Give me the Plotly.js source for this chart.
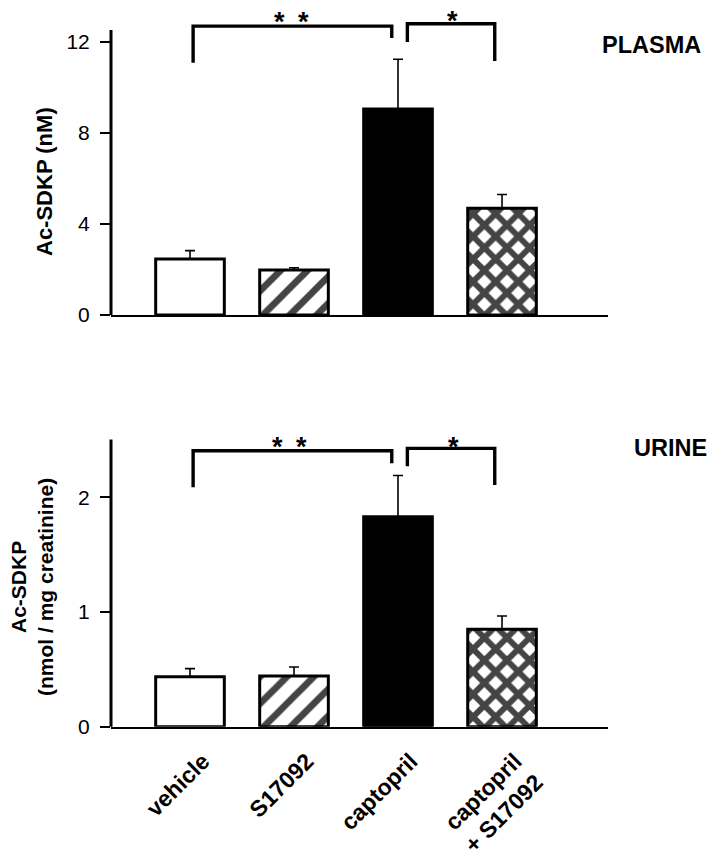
<!DOCTYPE html>
<html>
<head>
<meta charset="utf-8">
<script src="https://cdn.plot.ly/plotly-3.0.1.min.js"></script>
<style>html,body{margin:0;padding:0;background:#fff;}#chart{width:718px;height:859px;}</style>
</head>
<body>
<div id="chart"></div>
<script>
// ---- data ----
var categories = ['vehicle', 'S17092', 'captopril', 'captopril<br>+ S17092'];
var plasmaMean = [2.46, 1.98, 9.05, 4.69];
var plasmaSEM = [0.37, 0.10, 2.19, 0.61];
var urineMean = [0.436, 0.442, 1.83, 0.849];
var urineSEM = [0.07, 0.078, 0.36, 0.116];
var fills = ['white', 'white', 'black', 'white'];
var patterns = ['', '/', '', 'x'];
var patternSizes = [18, 19, 18, 16];
var patternSolidity = [0.3, 0.36, 0.3, 0.6];
// significance brackets: [fromIndex, toIndex, levelY, leftLegY, rightLegY, label, labelX, labelY]
var plasmaBrackets = [
  [0.03, 1.94, 12.7, 11.09, 12.18, '*\u2002*', 0.98, 12.86],
  [2.09, 2.93, 12.8, 12.0, 11.16, '*', 2.52, 12.94]
];
var urineBrackets = [
  [0.03, 1.94, 2.406, 2.087, 2.296, '*\u2002*', 0.96, 2.435],
  [2.09, 2.93, 2.427, 2.27, 2.107, '*', 2.53, 2.44]
];
var plasmaTicks = [0, 4, 8, 12];
var urineTicks = [0, 1, 2];
var plasmaAxisTop = 12.53, plasmaRangeMax = 13.4;
var urineAxisTop = 2.505, urineRangeMax = 2.65;

var xIdx = categories.map(function (c, i) { return i; });
var FONT = 'Liberation Sans, Arial, sans-serif';

function barTrace(y, err, xa, ya) {
  return {
    type: 'bar', x: xIdx, y: y, xaxis: xa, yaxis: ya, width: 0.66,
    marker: {
      color: fills,
      line: {color: 'black', width: 3},
      pattern: {shape: patterns, fgcolor: 'black', fgopacity: 1, size: patternSizes, solidity: patternSolidity, fillmode: 'overlay'}
    },
    error_y: {type: 'data', array: err, arrayminus: err.map(function () { return 0; }), symmetric: false,
      color: 'black', thickness: 1.6, width: 5},
    hoverinfo: 'skip', showlegend: false
  };
}

var data = [barTrace(plasmaMean, plasmaSEM, 'x', 'y'), barTrace(urineMean, urineSEM, 'x2', 'y2')];

var shapes = [];
var annotations = [];
function addBrackets(list, xr, yr) {
  list.forEach(function (b) {
    shapes.push({type: 'path', xref: xr, yref: yr,
      path: 'M' + b[0] + ',' + b[3] + ' L' + b[0] + ',' + b[2] + ' L' + b[1] + ',' + b[2] + ' L' + b[1] + ',' + b[4],
      line: {color: 'black', width: 3.4}});
    annotations.push({xref: xr, yref: yr, x: b[6], y: b[7], text: b[5], showarrow: false,
      font: {family: FONT, size: 27, color: 'black', weight: 'bold'}, xanchor: 'center', yanchor: 'middle'});
  });
}
addBrackets(plasmaBrackets, 'x', 'y');
addBrackets(urineBrackets, 'x2', 'y2');

var xDomain = [111 / 718, 608 / 718];
var xRange = [-0.7596, 4.019];
// y-axis lines (stop below the top of the plotting range)
shapes.push({type: 'line', xref: 'paper', yref: 'y domain', x0: xDomain[0], x1: xDomain[0], y0: 0, y1: plasmaAxisTop / plasmaRangeMax, line: {color: 'black', width: 3}});
shapes.push({type: 'line', xref: 'paper', yref: 'y2 domain', x0: xDomain[0], x1: xDomain[0], y0: 0, y1: urineAxisTop / urineRangeMax, line: {color: 'black', width: 3}});

annotations.push({xref: 'paper', yref: 'paper', x: 651 / 718, y: 1 - 45 / 859, text: 'PLASMA', showarrow: false,
  font: {family: FONT, size: 23.5, color: 'black', weight: 'bold'}, xanchor: 'center', yanchor: 'middle'});
annotations.push({xref: 'paper', yref: 'paper', x: 670 / 718, y: 1 - 448 / 859, text: 'URINE', showarrow: false,
  font: {family: FONT, size: 23.5, color: 'black', weight: 'bold'}, xanchor: 'center', yanchor: 'middle'});
annotations.push({xref: 'paper', yref: 'paper', x: 44 / 718, y: 1 - 182 / 859, text: 'Ac-SDKP (nM)', textangle: -90, showarrow: false,
  font: {family: FONT, size: 22, color: 'black', weight: 'bold'}, xanchor: 'center', yanchor: 'middle'});
annotations.push({xref: 'paper', yref: 'paper', x: 32 / 718, y: 1 - 587 / 859, text: 'Ac-SDKP<br>(nmol / mg creatinine)', textangle: -90, showarrow: false,
  font: {family: FONT, size: 21, color: 'black', weight: 'bold'}, xanchor: 'center', yanchor: 'middle'});

function yAxis(domain, rangeMax, ticks) {
  return {domain: domain, range: [0, rangeMax], showline: false, zeroline: false, showgrid: false,
    tickmode: 'array', tickvals: ticks, ticktext: ticks.map(String), ticks: 'outside', ticklen: 10, tickwidth: 2,
    tickcolor: 'black', ticklabelstandoff: 6, tickfont: {family: FONT, size: 21, color: 'black'}, fixedrange: true, automargin: false};
}

var layout = {
  width: 718, height: 859, margin: {l: 0, r: 0, t: 0, b: 0},
  paper_bgcolor: 'white', plot_bgcolor: 'white', bargap: 0.3,
  xaxis: {domain: xDomain, range: xRange, anchor: 'y', showline: true, linecolor: 'black', linewidth: 2,
    showgrid: false, zeroline: false, showticklabels: false, ticks: '', fixedrange: true, automargin: false},
  yaxis: yAxis([(859 - 315) / 859, (859 - 315 + plasmaRangeMax * 22.75) / 859], plasmaRangeMax, plasmaTicks),
  xaxis2: {domain: xDomain, range: xRange, anchor: 'y2', showline: true, linecolor: 'black', linewidth: 2,
    showgrid: false, zeroline: false, ticks: '', tickmode: 'array', tickvals: xIdx, ticktext: categories,
    tickangle: -45, ticklabelstandoff: 10, ticklabelshift: 13,
    tickfont: {family: FONT, size: 23, color: 'black', weight: 'bold'}, fixedrange: true, automargin: false},
  yaxis2: yAxis([(859 - 726.7) / 859, (859 - 726.7 + urineRangeMax * 114.7) / 859], urineRangeMax, urineTicks),
  shapes: shapes,
  annotations: annotations
};

Plotly.newPlot('chart', data, layout, {displayModeBar: false, staticPlot: true});
</script>
</body>
</html>
